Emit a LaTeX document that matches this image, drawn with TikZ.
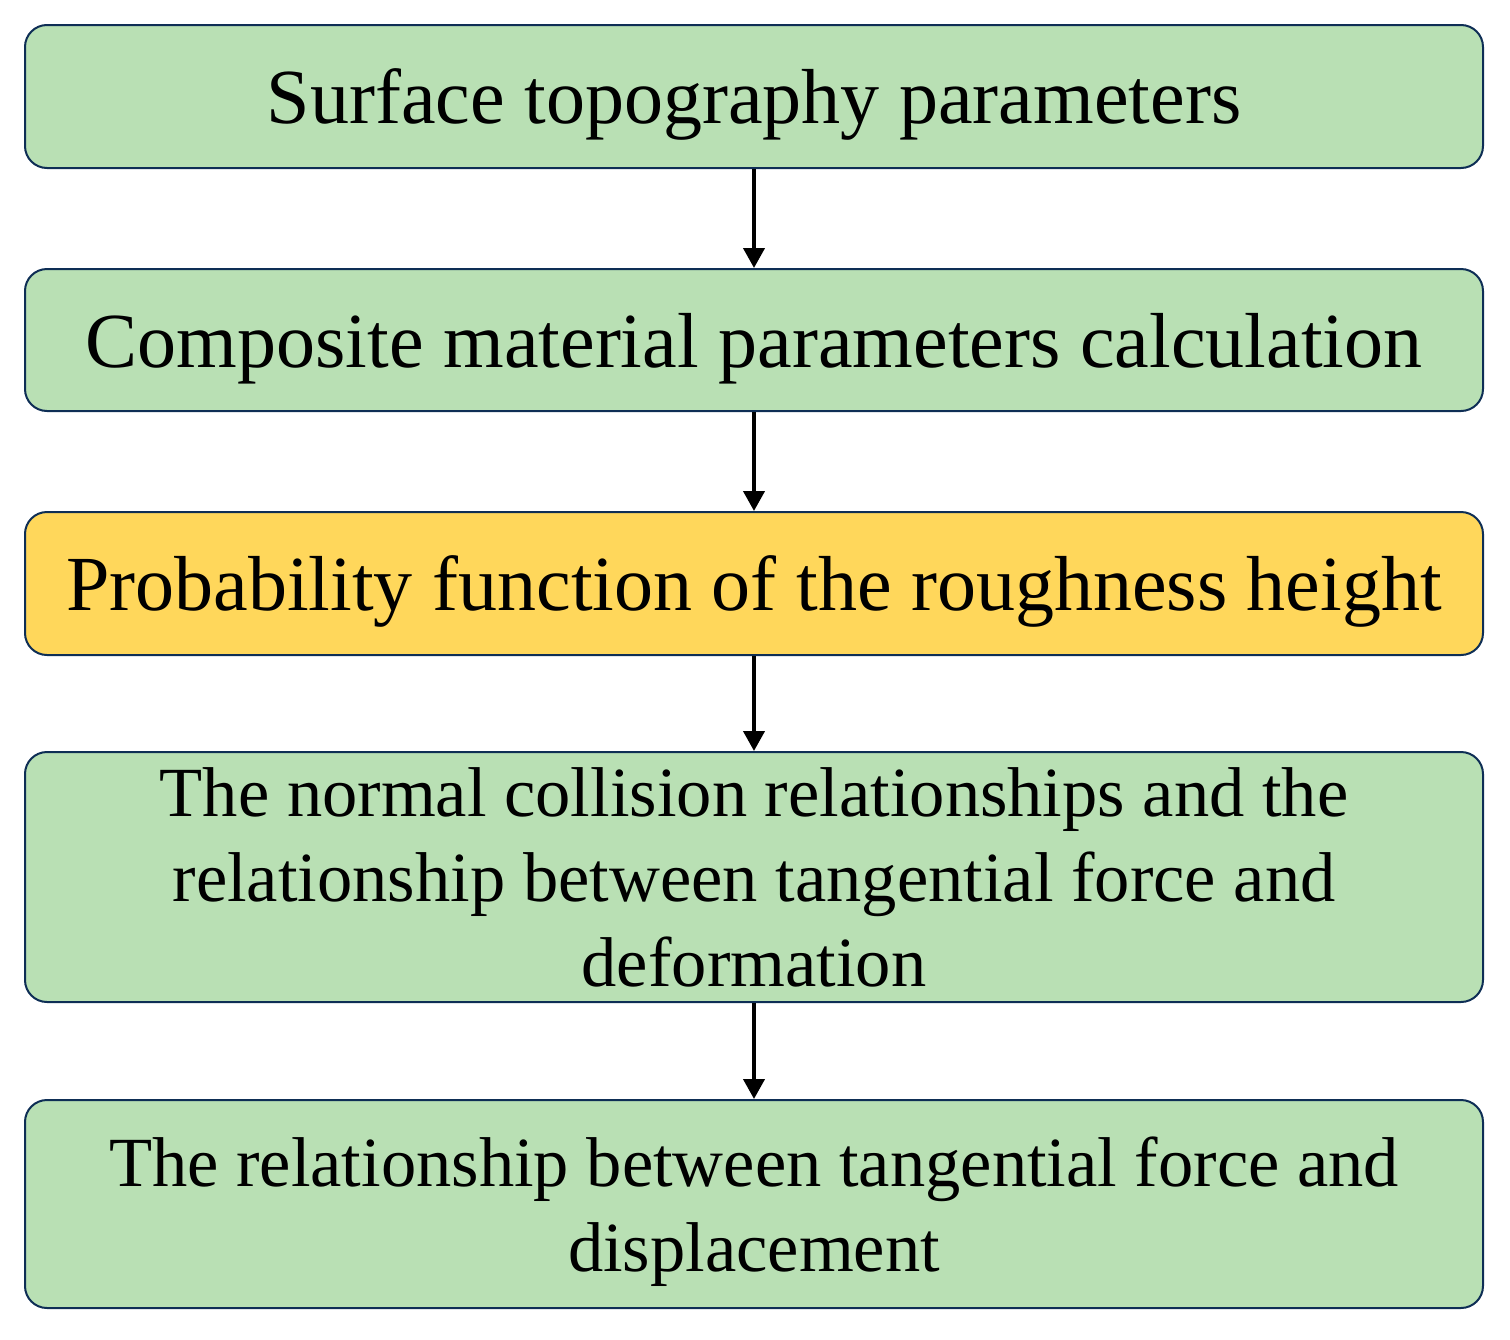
\documentclass[tikz,border=0pt]{standalone}
\usepackage{fontspec}
\setmainfont{Liberation Serif}
\usetikzlibrary{arrows.meta}
\definecolor{boxgreen}{HTML}{B9E0B4}
\definecolor{boxyellow}{HTML}{FFD75B}
\definecolor{boxline}{HTML}{0E2E55}
\tikzset{
  stepbox/.style={draw=boxline, line width=2pt, fill=boxgreen, rounded corners=22pt,
    minimum width=1458pt, inner sep=0pt, align=center, text depth=0pt,
    font=\fontsize{78}{85}\selectfont},
  smalltext/.style={font=\fontsize{70.5}{85}\selectfont},
  flowarrow/.style={line width=4pt, -{Triangle[width=21pt,length=20pt]}}
}
\begin{document}
\begin{tikzpicture}[x=1pt,y=-1pt]
\useasboundingbox (0,0) rectangle (1510,1339);
\node[stepbox, minimum height=143pt] (b1) at (754,96.5) {Surface topography parameters};
\node[stepbox, minimum height=142pt] (b2) at (754,340) {Composite material parameters calculation};
\node[stepbox, fill=boxyellow, minimum height=143pt] (b3) at (754,583.5) {Probability function of the roughness height};
\node[stepbox, smalltext, minimum height=250pt] (b4) at (754,877) {The normal collision relationships and the\\relationship between tangential force and\\deformation};
\node[stepbox, smalltext, minimum height=208pt] (b5) at (754,1204) {The relationship between tangential force and\\displacement};
\draw[flowarrow] (b1.south) -- (b2.north);
\draw[flowarrow] (b2.south) -- (b3.north);
\draw[flowarrow] (b3.south) -- (b4.north);
\draw[flowarrow] (b4.south) -- (b5.north);
\end{tikzpicture}
\end{document}
